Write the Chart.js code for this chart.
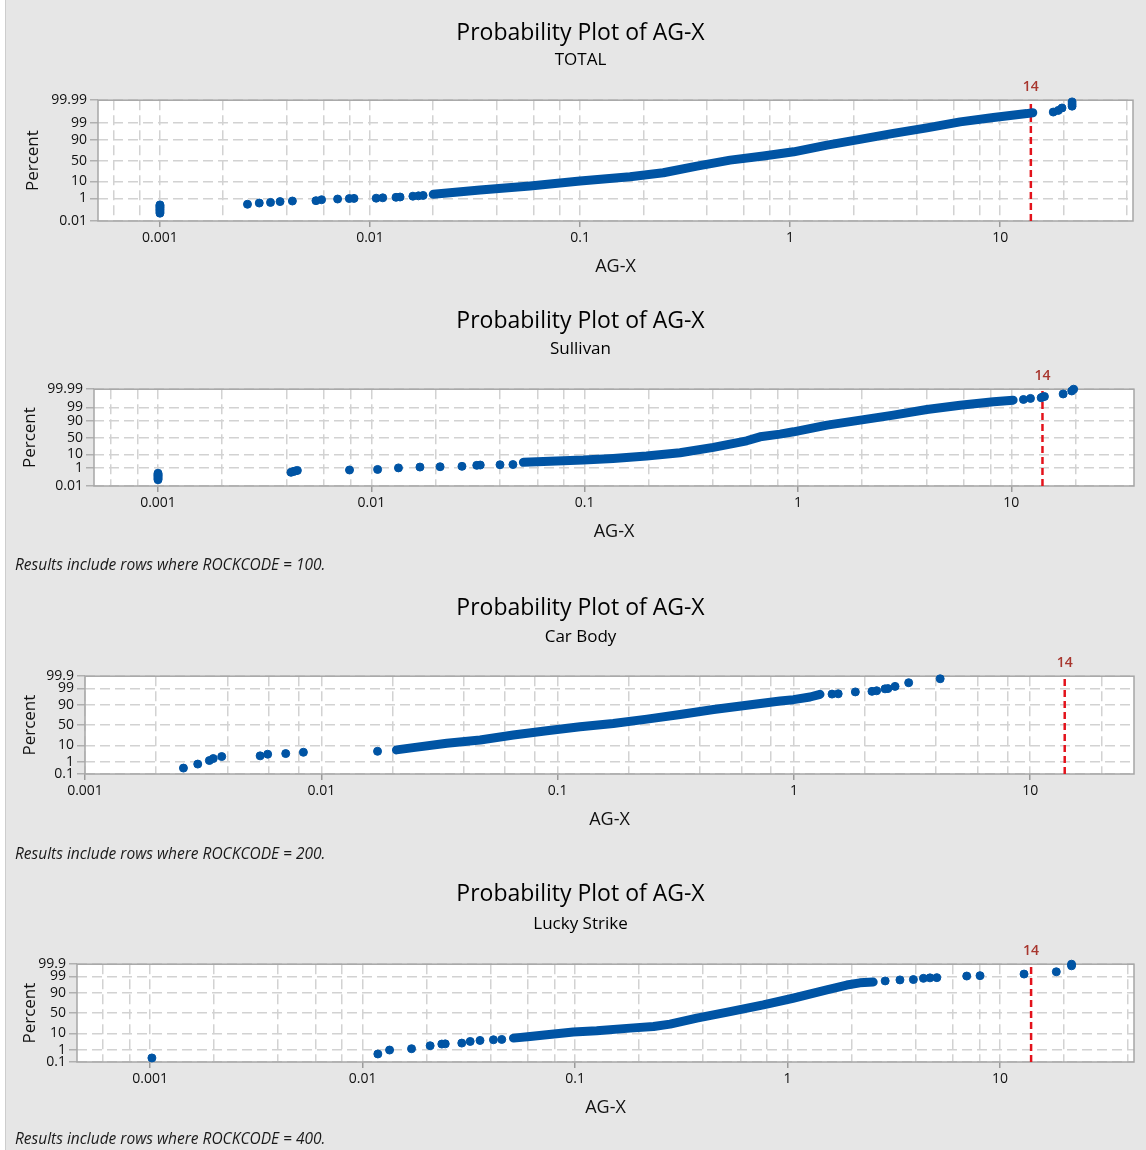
<!DOCTYPE html>
<html>
<head>
<meta charset="utf-8">
<title>Probability Plot of AG-X</title>
<script src="https://cdn.jsdelivr.net/npm/chart.js@4.4.1/dist/chart.umd.min.js"></script>
<style>
  html, body { margin: 0; padding: 0; background: #fff; }
  #page { position: relative; width: 1146px; height: 1150px; overflow: hidden; }
  #panelBg { position: absolute; left: 5px; top: 0; width: 1141px; height: 1150px; background: #e6e6e6; border-left: 1px solid #cdcdcd; box-sizing: border-box; }
  .panel { position: absolute; left: 0; width: 1146px; }
  .panel canvas { display: block; }
  .foot { position: absolute; left: 15px; font: italic 15.5px 'Open Sans', sans-serif; color: #1a1a1a; white-space: nowrap; }
</style>
</head>
<body>
<div id="page">
  <div id="panelBg"></div>
  <div class="panel" style="top:0px"><canvas id="plotTotal" width="1146" height="287"></canvas></div>
  <div class="panel" style="top:288px"><canvas id="plotSullivan" width="1146" height="287"></canvas></div>
  <div class="panel" style="top:575px"><canvas id="plotCarBody" width="1146" height="286"></canvas></div>
  <div class="panel" style="top:861px"><canvas id="plotLucky" width="1146" height="289"></canvas></div>
  <div class="foot" style="top:553px">Results include rows where ROCKCODE = 100.</div>
  <div class="foot" style="top:842px">Results include rows where ROCKCODE = 200.</div>
  <div class="foot" style="top:1127px">Results include rows where ROCKCODE = 400.</div>
</div>
<script>
// --- Axis labels ---
const xDecades = [0.001, 0.01, 0.1, 1, 10];
const xTickLabels = ['0.001', '0.01', '0.1', '1', '10'];
const xGridSteps = [1, 2, 4, 6, 8];

const yTicksWide = [0.01, 1, 10, 50, 90, 99, 99.99];
const yLabelsWide = ['0.01', '1', '10', '50', '90', '99', '99.99'];
const yTicksNarrow = [0.1, 1, 10, 50, 90, 99, 99.9];
const yLabelsNarrow = ['0.1', '1', '10', '50', '90', '99', '99.9'];

const limitValue = 14;

// --- TOTAL ---
const totalBandAg = [0.0200, 0.0334, 0.0578, 0.100, 0.173, 0.249, 0.360, 0.518, 0.746, 1.04, 1.50, 2.15, 3.10, 4.48, 6.45, 9.29, 13.4, 14.3];
const totalBandPct = [1.89, 3.49, 5.87, 10.4, 15.96, 22.7, 36.8, 51.2, 61.0, 70.6, 83.0, 90.4, 95.3, 97.8, 99.15, 99.6, 99.81, 99.84];
const totalDotAg = [0.001, 0.001, 0.001, 0.001, 0.001, 0.001, 0.001, 0.001,
    0.00261, 0.00297, 0.00336, 0.00373, 0.00427, 0.00553, 0.00588, 0.00701, 0.00797, 0.00839,
    0.0107, 0.0115, 0.0133, 0.0139, 0.0160, 0.0170, 0.0179,
    17.9, 18.9, 19.7, 22.0, 22.0, 22.0];
const totalDotPct = [0.06, 0.08, 0.11, 0.14, 0.18, 0.22, 0.27, 0.32,
    0.36, 0.45, 0.5, 0.58, 0.64, 0.68, 0.8, 0.9, 0.97, 1.0,
    1.03, 1.1, 1.19, 1.25, 1.42, 1.5, 1.6,
    99.86, 99.9, 99.94, 99.96, 99.975, 99.985];

// --- Sullivan ---
const sullivanBandAg = [0.0516, 0.0795, 0.0986, 0.136, 0.195, 0.280, 0.401, 0.575, 0.664, 0.824, 0.953, 1.37, 1.96, 2.80, 4.02, 5.76, 8.25, 10.2];
const sullivanBandPct = [2.86, 3.76, 4.2, 5.5, 7.8, 12.2, 22.6, 40.3, 52.4, 60.6, 67.2, 83.1, 91.0, 95.8, 98.47, 99.36, 99.70, 99.80];
const sullivanDotAg = [0.001, 0.001, 0.001, 0.001, 0.001, 0.001, 0.001,
    0.0042, 0.0043, 0.0044, 0.0045, 0.0079, 0.0107, 0.0134, 0.0169, 0.0210, 0.0266, 0.0312, 0.0324, 0.0401, 0.0461,
    11.4, 12.3, 13.8, 14.0, 14.3, 17.5, 19.2, 19.6];
const sullivanDotPct = [0.06, 0.08, 0.11, 0.15, 0.19, 0.24, 0.31,
    0.38, 0.45, 0.52, 0.58, 0.64, 0.72, 1.0, 1.18, 1.26, 1.36, 1.65, 1.75, 1.85, 1.92,
    99.83, 99.87, 99.89, 99.91, 99.92, 99.96, 99.983, 99.99];

// --- Car Body ---
const carBodyBandAg = [0.0208, 0.0245, 0.0340, 0.0470, 0.0650, 0.0900, 0.1245, 0.172, 0.239, 0.330, 0.457, 0.632, 0.875, 0.996, 1.17, 1.29];
const carBodyBandPct = [5.85, 7.7, 12.6, 17.4, 26.5, 36.0, 45.7, 54.2, 64.7, 74.9, 83.7, 89.5, 93.6, 94.6, 96.2, 97.4];
const carBodyDotAg = [0.00261, 0.0030, 0.00336, 0.00349, 0.00379, 0.00551, 0.00593, 0.00707, 0.0084, 0.0173,
    1.45, 1.54, 1.82, 2.14, 2.24, 2.43, 2.50, 2.68, 3.06, 4.16];
const carBodyDotPct = [0.33, 0.69, 1.26, 1.73, 2.35, 2.6, 3.3, 3.6, 4.3, 4.9,
    97.5, 97.6, 98.2, 98.35, 98.5, 98.9, 98.95, 99.28, 99.63, 99.83];

// --- Lucky Strike ---
const luckyBandAg = [0.0513, 0.0614, 0.0736, 0.0982, 0.1265, 0.1815, 0.234, 0.280, 0.374, 0.536, 0.769, 1.06, 1.53, 1.90, 2.19, 2.53];
const luckyBandPct = [5.7, 7.0, 8.5, 11.5, 13.2, 17.1, 19.8, 24.3, 37.4, 53.8, 69.7, 82.6, 92.8, 96.2, 97.2, 97.5];
const luckyDotAg = [0.00102, 0.0118, 0.0134, 0.0170, 0.0208, 0.0236, 0.0245, 0.0293, 0.0321, 0.0357, 0.0413, 0.0452,
    2.88, 3.38, 3.91, 4.36, 4.68, 5.04, 6.97, 8.05, 12.97, 18.4, 21.7, 21.7];
const luckyDotPct = [0.23, 0.49, 0.98, 1.22, 1.96, 2.52, 2.6, 2.9, 3.66, 4.2, 4.6, 4.8,
    97.9, 98.2, 98.3, 98.6, 98.7, 98.75, 99.04, 99.1, 99.32, 99.55, 99.86, 99.9];

// --- Probability scale helper (inverse normal CDF, Acklam) ---
function probit(pct) {
    const p = pct / 100;
    const a = [-3.969683028665376e+01, 2.209460984245205e+02, -2.759285104469687e+02, 1.383577518672690e+02, -3.066479806614716e+01, 2.506628277459239e+00];
    const b = [-5.447609879822406e+01, 1.615858368580409e+02, -1.556989798598866e+02, 6.680131188771972e+01, -1.328068155288572e+01];
    const c = [-7.784894002430293e-03, -3.223964580411365e-01, -2.400758277161838e+00, -2.549732539343734e+00, 4.374664141464968e+00, 2.938163982698783e+00];
    const d = [7.784695709041462e-03, 3.224671290700398e-01, 2.445134137142996e+00, 3.754408661907416e+00];
    const tail = q => (((((c[0] * q + c[1]) * q + c[2]) * q + c[3]) * q + c[4]) * q + c[5]) / ((((d[0] * q + d[1]) * q + d[2]) * q + d[3]) * q + 1);
    if (p < 0.02425) return tail(Math.sqrt(-2 * Math.log(p)));
    if (p > 1 - 0.02425) return -tail(Math.sqrt(-2 * Math.log(1 - p)));
    const q = p - 0.5, r = q * q;
    return (((((a[0] * r + a[1]) * r + a[2]) * r + a[3]) * r + a[4]) * r + a[5]) * q / (((((b[0] * r + b[1]) * r + b[2]) * r + b[3]) * r + b[4]) * r + 1);
}

// --- Panels ---
const panels = [
    { id: 'plotTotal', subtitle: 'TOTAL', bandAg: totalBandAg, bandPct: totalBandPct, dotAg: totalDotAg, dotPct: totalDotPct,
      yTicks: yTicksWide, yLabels: yLabelsWide, xMin: 0.000507, xMax: 42.9,
      box: { height: 287, subY: 60, top: 100, bottom: 221, left: 98, right: 1133, yTitleX: 33, xTitleY: 267 } },
    { id: 'plotSullivan', subtitle: 'Sullivan', bandAg: sullivanBandAg, bandPct: sullivanBandPct, dotAg: sullivanDotAg, dotPct: sullivanDotPct,
      yTicks: yTicksWide, yLabels: yLabelsWide, xMin: 0.000501, xMax: 37.6,
      box: { height: 287, subY: 61, top: 101, bottom: 198, left: 94, right: 1134, yTitleX: 30, xTitleY: 244 } },
    { id: 'plotCarBody', subtitle: 'Car Body', bandAg: carBodyBandAg, bandPct: carBodyBandPct, dotAg: carBodyDotAg, dotPct: carBodyDotPct,
      yTicks: yTicksNarrow, yLabels: yLabelsNarrow, xMin: 0.001, xMax: 27.5,
      box: { height: 286, subY: 62, top: 101, bottom: 199, left: 85, right: 1134, yTitleX: 30, xTitleY: 245 } },
    { id: 'plotLucky', subtitle: 'Lucky Strike', bandAg: luckyBandAg, bandPct: luckyBandPct, dotAg: luckyDotAg, dotPct: luckyDotPct,
      yTicks: yTicksNarrow, yLabels: yLabelsNarrow, xMin: 0.000453, xMax: 42.7,
      box: { height: 289, subY: 63, top: 103, bottom: 201, left: 77, right: 1134, yTitleX: 30, xTitleY: 247 } }
];

const FONT = "'Open Sans', sans-serif";
const BLUE = '#0054a4';
const GRID = '#d2d2d2';
const TEXT = '#111';
const TITLE_CENTER = 580.5;

Chart.defaults.font.family = FONT;

const plotFrame = {
    id: 'plotFrame',
    beforeDraw(chart) {
        const { ctx, chartArea: a } = chart;
        ctx.save();
        ctx.fillStyle = '#fff';
        ctx.fillRect(a.left, a.top, a.width, a.height);
        ctx.restore();
    },
    beforeDatasetsDraw(chart) {
        const { ctx, chartArea: a } = chart;
        ctx.save();
        ctx.strokeStyle = '#a6a6a6';
        ctx.lineWidth = 1.5;
        ctx.strokeRect(a.left, a.top, a.width, a.height);
        ctx.restore();
    },
    afterDatasetsDraw(chart) {
        const { ctx, chartArea: a } = chart;
        const x = chart.scales.x.getPixelForValue(limitValue);
        ctx.save();
        ctx.fillStyle = '#a8362e';
        ctx.font = `600 14px ${FONT}`;
        ctx.textAlign = 'center';
        ctx.textBaseline = 'middle';
        ctx.fillText(String(limitValue), x, a.top - 13);
        ctx.restore();
    }
};

function buildXTicks(xMin, xMax) {
    const ticks = [];
    for (let e = -4; e <= 1; e++) {
        xGridSteps.forEach(s => {
            const v = Number((s * Math.pow(10, e)).toPrecision(6));
            if (v < xMin || v > xMax) return;
            const k = xDecades.indexOf(v);
            ticks.push({ value: v, lbl: k >= 0 ? xTickLabels[k] : '' });
        });
    }
    return ticks;
}

function makeProbabilityPlot(p) {
    const b = p.box;
    const padLeft = 2 * TITLE_CENTER - b.right;
    const yMin = probit(p.yTicks[0]);
    const yMax = probit(p.yTicks[p.yTicks.length - 1]);
    const xTicks = buildXTicks(p.xMin, p.xMax);

    const ctx = document.getElementById(p.id).getContext('2d');
    return new Chart(ctx, {
        type: 'scatter',
        data: {
            datasets: [
                { label: 'limit', data: [{ x: limitValue, y: yMin }, { x: limitValue, y: yMax }], showLine: true,
                  borderColor: '#e3121b', borderWidth: 2.5, borderDash: [7, 4], pointRadius: 0, order: 3 },
                { label: 'band', data: p.bandAg.map((v, i) => ({ x: v, y: probit(p.bandPct[i]) })), showLine: true,
                  borderColor: BLUE, borderWidth: 9, borderCapStyle: 'round', borderJoinStyle: 'round', pointRadius: 0, order: 2, clip: false },
                { label: 'points', data: p.dotAg.map((v, i) => ({ x: v, y: probit(p.dotPct[i]) })), showLine: false,
                  pointRadius: 4, pointBackgroundColor: BLUE, pointBorderColor: BLUE, pointBorderWidth: 1, order: 1, clip: false }
            ]
        },
        options: {
            responsive: false,
            animation: false,
            devicePixelRatio: 1,
            layout: { padding: { left: padLeft, right: 1146 - b.right, top: 0, bottom: 0 } },
            plugins: {
                legend: { display: false },
                tooltip: { enabled: false },
                title: { display: true, text: 'Probability Plot of AG-X', color: '#000',
                    font: { size: 23, weight: 'normal' }, padding: { top: 19.2, bottom: b.subY - 56.8 } },
                subtitle: { display: true, text: p.subtitle, color: '#000',
                    font: { size: 17, weight: 'normal' }, padding: { top: 0, bottom: b.top - b.subY - 10.2 } }
            },
            scales: {
                x: {
                    type: 'logarithmic', min: p.xMin, max: p.xMax,
                    afterBuildTicks: s => { s.ticks = xTicks.map(t => ({ value: t.value, lbl: t.lbl })); },
                    afterFit: s => { s.height = b.height - b.bottom; },
                    ticks: { autoSkip: false, maxRotation: 0, minRotation: 0, padding: 3, color: TEXT,
                        font: { size: 14 }, callback: (v, i, ticks) => ticks[i].lbl },
                    grid: { color: GRID, lineWidth: 1.5, tickLength: 6, tickWidth: 1.5,
                        tickColor: c => (c.tick && c.tick.lbl ? '#9a9a9a' : 'rgba(0,0,0,0)') },
                    border: { display: false, dash: [10, 5] },
                    title: { display: true, text: 'AG-X', color: TEXT, font: { size: 18 },
                        padding: { top: 0, bottom: b.height - b.xTitleY - 10.8 } }
                },
                y: {
                    type: 'linear', min: yMin, max: yMax,
                    afterBuildTicks: s => { s.ticks = p.yTicks.map(v => ({ value: probit(v) })); },
                    afterFit: s => { s.width = b.left - padLeft; },
                    ticks: { autoSkip: false, padding: 3, color: TEXT, font: { size: 14 },
                        callback: (v, i) => p.yLabels[i] },
                    grid: { color: GRID, lineWidth: 1.5, tickLength: 8, tickWidth: 1.5, tickColor: '#b0b0b0' },
                    border: { display: false, dash: [10, 5] },
                    title: { display: true, text: 'Percent', color: TEXT, font: { size: 17 },
                        padding: { top: b.yTitleX - padLeft - 10.2, bottom: 0 } }
                }
            }
        },
        plugins: [plotFrame]
    });
}

panels.forEach(makeProbabilityPlot);
</script>
</body>
</html>
